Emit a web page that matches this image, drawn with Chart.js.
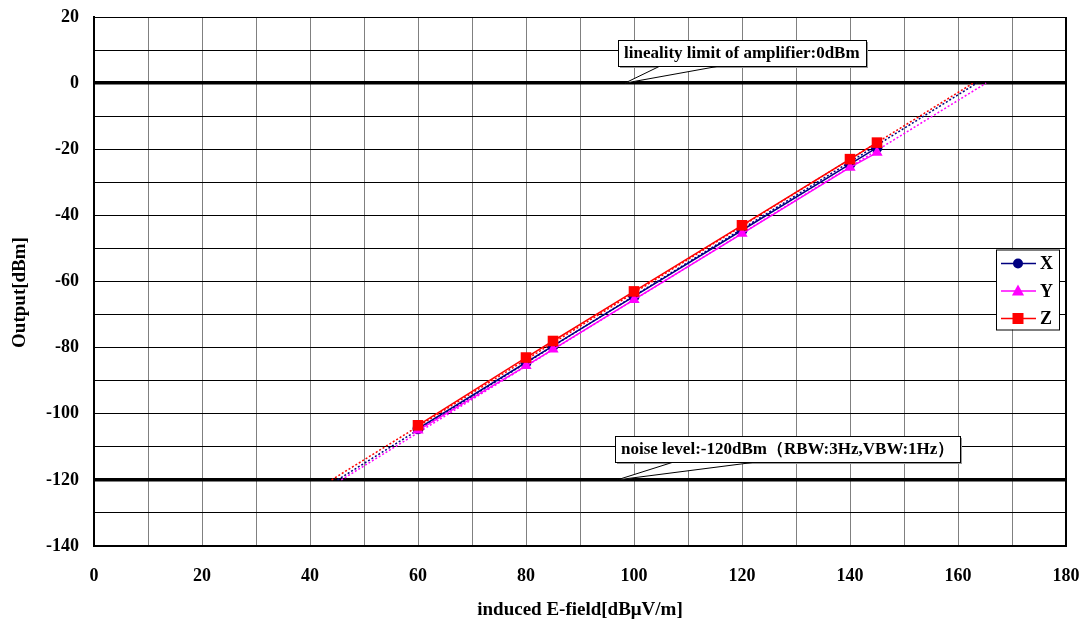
<!DOCTYPE html>
<html>
<head>
<meta charset="utf-8">
<script src="https://cdn.jsdelivr.net/npm/chart.js@4/dist/chart.umd.min.js"></script>
<style>
  html, body { margin: 0; padding: 0; background: #fff; }
  canvas { display: block; }
</style>
</head>
<body>
<canvas id="chart" width="1086" height="624"></canvas>
<script>
// induced E-field [dBuV/m] at each measured point
const fields = [60, 80, 85, 100, 120, 140, 145];
// output [dBm] per axis
const outX = [-104.5, -84.5, -79.5, -64.5, -44.5, -24.5, -19.5];
const outY = [-105, -85.5, -80.5, -65.5, -45.5, -25.5, -21];
const outZ = [-103.5, -83, -78, -63, -43, -23, -18];
// dotted extrapolation ends (field, output)
const trendX = [[45.1, -120], [163.5, 0]];
const trendY = [[45.8, -120], [165.2, 0]];
const trendZ = [[44.0, -120], [162.8, 0]];

const xTicks = [0, 20, 40, 60, 80, 100, 120, 140, 160, 180];
const yTicks = [20, 0, -20, -40, -60, -80, -100, -120, -140];
const refLevels = [0, -120];

// callouts: tip (field, output) and box top-left (field, output)
const callouts = [
  { text: 'lineality limit of amplifier:0dBm', tip: [98.3, 0], box: [97.0, 13.0] },
  { text: 'noise level:-120dBm\uFF08RBW:3Hz,VBW:1Hz\uFF09', tip: [96.9, -120], box: [96.5, -106.8] }
];

const serif = "'Liberation Serif', 'Times New Roman', serif";

function pts(xs, ys) { return xs.map((x, i) => ({ x: x, y: ys[i] })); }
function pairs(p) { return p.map(a => ({ x: a[0], y: a[1] })); }

function marker(ctx, style, x, y, r, color) {
  ctx.save();
  ctx.fillStyle = color;
  ctx.beginPath();
  if (style === 'circle') {
    ctx.arc(x, y, r, 0, Math.PI * 2);
  } else if (style === 'triangle') {
    ctx.moveTo(x, y - r * 1.2);
    ctx.lineTo(x + r * 1.1, y + r * 0.8);
    ctx.lineTo(x - r * 1.1, y + r * 0.8);
    ctx.closePath();
  } else {
    ctx.rect(x - r, y - r, r * 2, r * 2);
  }
  ctx.fill();
  ctx.restore();
}

// y title drawn by hand so it sits a bit below the axis middle, as in the original
const yTitlePlugin = {
  id: 'yTitle',
  afterDraw(chart) {
    const ctx = chart.ctx;
    const a = chart.chartArea;
    ctx.save();
    ctx.translate(20, (a.top + a.bottom) / 2 + 11);
    ctx.rotate(-Math.PI / 2);
    ctx.font = 'bold 19px ' + serif;
    ctx.fillStyle = '#000';
    ctx.textAlign = 'center';
    ctx.textBaseline = 'middle';
    ctx.fillText('Output[dBm]', 0, 0);
    ctx.restore();
  }
};

const legendPlugin = {
  id: 'boxLegend',
  afterDatasetsDraw(chart) {
    const ctx = chart.ctx;
    const a = chart.chartArea;
    const w = 63, h = 80;
    const left = a.right - 70;
    const top = (a.top + a.bottom) / 2 - 32;
    ctx.save();
    ctx.fillStyle = '#fff';
    ctx.fillRect(left, top, w, h);
    ctx.strokeStyle = '#000';
    ctx.lineWidth = 1;
    ctx.strokeRect(left + 0.5, top + 0.5, w, h);
    const items = [
      { label: 'X', color: '#000080', style: 'circle', r: 5 },
      { label: 'Y', color: '#FF00FF', style: 'triangle', r: 5.5 },
      { label: 'Z', color: '#FF0000', style: 'rect', r: 5.5 }
    ];
    items.forEach((it, i) => {
      const y = top + 14 + i * 27.5;
      ctx.strokeStyle = it.color;
      ctx.lineWidth = 1.5;
      ctx.beginPath();
      ctx.moveTo(left + 5, y);
      ctx.lineTo(left + 40, y);
      ctx.stroke();
      marker(ctx, it.style, left + 22, y, it.r, it.color);
      ctx.fillStyle = '#000';
      ctx.font = 'bold 18px ' + serif;
      ctx.textBaseline = 'middle';
      ctx.textAlign = 'left';
      ctx.fillText(it.label, left + 44, y + 1);
    });
    ctx.restore();
  }
};

const calloutPlugin = {
  id: 'callouts',
  afterDatasetsDraw(chart) {
    const ctx = chart.ctx;
    const sx = chart.scales.x, sy = chart.scales.y;
    ctx.save();
    ctx.font = 'bold 17px ' + serif;
    callouts.forEach(c => {
      const tx = sx.getPixelForValue(c.tip[0]);
      const ty = sy.getPixelForValue(c.tip[1]);
      const bx = Math.round(sx.getPixelForValue(c.box[0]));
      const by = Math.round(sy.getPixelForValue(c.box[1]));
      const bw = Math.round(ctx.measureText(c.text).width + 12);
      const bh = 26;
      // shadow
      ctx.fillStyle = '#9a9a9a';
      ctx.fillRect(bx + 2, by + 2, bw, bh);
      // wedge
      const w1 = bx + bw * 0.17, w2 = bx + bw * 0.41;
      ctx.fillStyle = '#fff';
      ctx.strokeStyle = '#000';
      ctx.lineWidth = 1;
      ctx.beginPath();
      ctx.moveTo(w1, by + bh);
      ctx.lineTo(tx, ty);
      ctx.lineTo(w2, by + bh);
      ctx.closePath();
      ctx.fill();
      ctx.beginPath();
      ctx.moveTo(w1, by + bh);
      ctx.lineTo(tx, ty);
      ctx.lineTo(w2, by + bh);
      ctx.stroke();
      // box
      ctx.fillStyle = '#fff';
      ctx.fillRect(bx, by, bw, bh);
      ctx.strokeRect(bx + 0.5, by + 0.5, bw, bh);
      ctx.fillStyle = '#000';
      ctx.textBaseline = 'middle';
      ctx.textAlign = 'left';
      ctx.fillText(c.text, bx + 6, by + bh / 2 + 1);
    });
    ctx.restore();
  }
};

const lineSet = (label, data, color, style, r, order) => ({
  label: label, data: data, showLine: true,
  borderColor: color, backgroundColor: color, borderWidth: 1.5,
  pointStyle: style, pointRadius: r, pointBorderWidth: 0, pointHoverRadius: r,
  order: order
});
const trendSet = (data, color) => ({
  label: '', data: data, showLine: true,
  borderColor: color, borderWidth: 1.5, borderDash: [2, 2],
  pointRadius: 0, order: 10
});

new Chart(document.getElementById('chart'), {
  type: 'scatter',
  data: {
    datasets: [
      lineSet('Z', pts(fields, outZ), '#FF0000', 'rect', 7.5, 1),
      lineSet('Y', pts(fields, outY), '#FF00FF', 'triangle', 6.5, 2),
      lineSet('X', pts(fields, outX), '#000080', 'circle', 5.5, 3),
      trendSet(pairs(trendZ), '#FF0000'),
      trendSet(pairs(trendX), '#000080'),
      trendSet(pairs(trendY), '#FF00FF')
    ]
  },
  options: {
    responsive: false,
    animation: false,
    devicePixelRatio: 1,
    layout: { padding: { top: 17, right: 20, bottom: 0, left: 0 } },
    plugins: { legend: { display: false }, tooltip: { enabled: false } },
    scales: {
      x: {
        type: 'linear', min: 0, max: 180,
        afterFit: s => { s.height = 78; s.paddingLeft = 0; s.paddingRight = 0; },
        border: { display: true, color: '#000', width: 2 },
        grid: {
          drawTicks: false,
          color: c => (c.tick && c.tick.value === 180) ? '#000' : '#808080',
          lineWidth: c => (c.tick && c.tick.value === 180) ? 2 : 1
        },
        ticks: {
          stepSize: 10, padding: 20, color: '#000', maxRotation: 0, autoSkip: false,
          font: { family: serif, size: 18, weight: 'bold' },
          callback: v => xTicks.includes(v) ? String(v) : ''
        },
        title: {
          display: true, text: 'induced E-field[dB\u03BCV/m]', color: '#000',
          font: { family: serif, size: 19, weight: 'bold' },
          padding: { top: 0, bottom: 3 }
        }
      },
      y: {
        type: 'linear', min: -140, max: 20,
        afterFit: s => { s.width = 94; s.paddingTop = 0; s.paddingBottom = 0; },
        border: { display: true, color: '#000', width: 2 },
        grid: {
          drawTicks: false,
          color: '#000',
          lineWidth: c => (c.tick && refLevels.includes(c.tick.value)) ? 3.5 : 1
        },
        ticks: {
          stepSize: 10, padding: 15, color: '#000', autoSkip: false,
          font: { family: serif, size: 18, weight: 'bold' },
          callback: v => yTicks.includes(v) ? String(v) : ''
        }
      }
    }
  },
  plugins: [calloutPlugin, legendPlugin, yTitlePlugin]
});
</script>
</body>
</html>
